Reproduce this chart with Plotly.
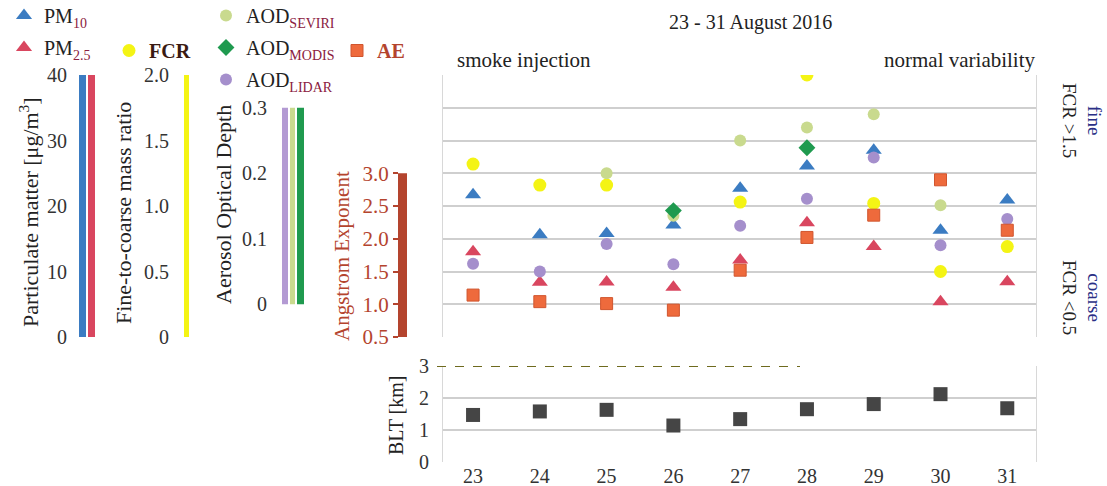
import plotly.graph_objects as go

# ---------------- data ----------------
days = [23, 24, 25, 26, 27, 28, 29, 30, 31]
day_labels = ["23", "24", "25", "26", "27", "28", "29", "30", "31"]
pm10 = [21.7, 15.6, 15.8, 17.1, 22.7, 26.1, 28.5, 16.3, 20.9]
pm25 = [13.0, 8.35, 8.4, 7.6, 11.75, 17.45, 13.8, 5.4, 8.45]
fcr_days = [23, 24, 25, 27, 28, 29, 30, 31]
fcr = [1.32, 1.16, 1.16, 1.03, 2.0, 1.02, 0.50, 0.69]
seviri_days = [25, 26, 27, 28, 29, 30]
aod_seviri = [0.20, 0.135, 0.25, 0.27, 0.29, 0.151]
modis_days = [26, 28]
aod_modis = [0.143, 0.239]
aod_lidar = [0.062, 0.050, 0.092, 0.061, 0.12, 0.161, 0.224, 0.090, 0.13]
ae = [1.14, 1.04, 1.01, 0.91, 1.52, 2.02, 2.36, 2.90, 2.13]
blt = [1.47, 1.58, 1.63, 1.14, 1.34, 1.65, 1.81, 2.12, 1.68]

pm_ticks = [0, 10, 20, 30, 40]
fcr_ticks = [0, 0.5, 1.0, 1.5, 2.0]
fcr_ticktext = ["0", "0.5", "1.0", "1.5", "2.0"]
aod_ticks = [0, 0.1, 0.2, 0.3]
aod_ticktext = ["0", "0.1", "0.2", "0.3"]
ae_ticks = [0.5, 1.0, 1.5, 2.0, 2.5, 3.0]
ae_ticktext = ["0.5", "1.0", "1.5", "2.0", "2.5", "3.0"]
blt_ticks = [0, 1, 2, 3]

# ---------------- styling ----------------
W, H = 1107, 486
SERIF = "Liberation Serif"
def px(x):
    return x / W
def py(y):
    return 1 - y / H

C_PM10 = "#3b7cc2"
C_PM25 = "#d9465f"
C_FCR = "#f4f414"
C_SEV = "#c9da8e"
C_MOD = "#1f9a4f"
C_LID = "#a58fcc"
C_AE = "#ee6a3c"
C_AEDARK = "#b4442e"
C_BLT = "#454545"
GRID = "#cfcfcf"
SUBC = "#8b2040"

main_dom = [py(337), py(75)]
blt_dom = [py(462), py(366)]
x_dom = [px(443), px(1036)]
x_rng = [22.55, 31.43]

fig = go.Figure()

def sub(s):
    return "<sub><span style='color:%s'>%s</span></sub>" % (SUBC, s)

fig.add_trace(go.Scatter(x=days, y=pm10, yaxis="y2", xaxis="x", mode="markers",
                         name="PM" + sub("10"), legend="legend", legendgroup="pm10",
                         marker=dict(symbol="triangle-up", size=14, color=C_PM10)))
fig.add_trace(go.Scatter(x=days, y=pm25, yaxis="y2", xaxis="x", mode="markers",
                         name="PM" + sub("2.5"), legend="legend", legendgroup="pm25",
                         marker=dict(symbol="triangle-up", size=14, color=C_PM25)))
fig.add_trace(go.Scatter(x=seviri_days, y=aod_seviri, yaxis="y3", xaxis="x", mode="markers",
                         name="AOD" + sub("SEVIRI"), legend="legend3", legendgroup="sev",
                         marker=dict(symbol="circle", size=12, color=C_SEV)))
fig.add_trace(go.Scatter(x=modis_days, y=aod_modis, yaxis="y3", xaxis="x", mode="markers",
                         name="AOD" + sub("MODIS"), legend="legend3", legendgroup="mod",
                         marker=dict(symbol="diamond", size=13, color=C_MOD)))
fig.add_trace(go.Scatter(x=days, y=aod_lidar, yaxis="y3", xaxis="x", mode="markers",
                         name="AOD" + sub("LIDAR"), legend="legend3", legendgroup="lid",
                         marker=dict(symbol="circle", size=12, color=C_LID)))
fig.add_trace(go.Scatter(x=days, y=ae, yaxis="y4", xaxis="x", mode="markers",
                         name="<b><span style='color:%s'>AE</span></b>" % C_AEDARK,
                         legend="legend4", legendgroup="ae",
                         marker=dict(symbol="square", size=12, color=C_AE,
                                     line=dict(color="#d0552e", width=1))))
fig.add_trace(go.Scatter(x=fcr_days, y=fcr, yaxis="y", xaxis="x", mode="markers",
                         name="<b><span style='color:#3a1a12'>FCR</span></b>",
                         legend="legend2", legendgroup="fcr",
                         marker=dict(symbol="circle", size=13, color=C_FCR)))
# invisible copy so that the FCR tick-label axis is drawn
fig.add_trace(go.Scatter(x=fcr_days, y=fcr, yaxis="y6", xaxis="x", mode="markers",
                         showlegend=False, hoverinfo="skip",
                         marker=dict(size=1, opacity=0)))
fig.add_trace(go.Scatter(x=days, y=blt, yaxis="y5", xaxis="x2", mode="markers",
                         name="BLT", showlegend=False,
                         marker=dict(symbol="square", size=14, color=C_BLT)))

tickfont = dict(family=SERIF, size=20, color="#333333")

free_axis = dict(overlaying="y", anchor="free", side="left", showgrid=False,
                 zeroline=False, showline=False, ticks="", tickfont=tickfont)

leg_common = dict(xanchor="left", yanchor="top", bgcolor="rgba(0,0,0,0)",
                  font=dict(family=SERIF, size=20, color="#222222"),
                  tracegroupgap=3, itemwidth=30)

fig.update_layout(
    width=W, height=H,
    margin=dict(l=0, r=0, t=0, b=0, autoexpand=False),
    paper_bgcolor="white", plot_bgcolor="white",
    font=dict(family=SERIF, size=20, color="#222222"),
    xaxis=dict(domain=x_dom, range=x_rng, anchor="y", showticklabels=False,
               showgrid=False, zeroline=False, showline=False, ticks=""),
    xaxis2=dict(domain=x_dom, range=x_rng, anchor="y5", tickvals=days, ticktext=day_labels,
                showgrid=False, zeroline=False, showline=False, ticks="",
                tickfont=dict(family=SERIF, size=20, color="#333333")),
    yaxis=dict(domain=main_dom, range=[0, 2], dtick=0.25, anchor="x",
               showticklabels=False, showgrid=True, gridcolor=GRID, gridwidth=1.5,
               zeroline=False, showline=True, mirror=True, linecolor="#d8d8d8", ticks=""),
    yaxis2=dict(free_axis, range=[0, 40], position=px(67), tickvals=pm_ticks),
    yaxis6=dict(free_axis, range=[0, 2], position=px(169), tickvals=fcr_ticks,
                ticktext=fcr_ticktext),
    yaxis3=dict(free_axis, range=[-0.05, 0.35], position=px(267), tickvals=aod_ticks,
                ticktext=aod_ticktext),
    yaxis4=dict(overlaying="y", anchor="free", side="left", showgrid=False, zeroline=False,
                showline=False, position=px(398), range=[0.5, 4.5], tickvals=ae_ticks,
                ticktext=ae_ticktext, ticks="outside", ticklen=5, tickwidth=1.5,
                tickcolor=C_AEDARK,
                tickfont=dict(family=SERIF, size=21, color=C_AEDARK)),
    yaxis5=dict(domain=blt_dom, anchor="x2", range=[0, 3], tickvals=blt_ticks,
                showgrid=True, gridcolor=GRID, gridwidth=1.5, zeroline=False,
                showline=True, mirror=True, linecolor="#d8d8d8",
                ticks="outside", ticklen=9, tickcolor="rgba(0,0,0,0)", tickfont=tickfont),
    legend=dict(leg_common, x=px(4), y=py(-4)),
    legend2=dict(leg_common, x=px(109), y=py(31)),
    legend3=dict(leg_common, x=px(206), y=py(-4)),
    legend4=dict(leg_common, x=px(337), y=py(31)),
)

# coloured axis bars (left side), drawn in each axis' own data units
bars = [
    (79, 86, "y2", 0, 40, C_PM10),
    (88, 95, "y2", 0, 40, C_PM25),
    (184, 189, "y", 0, 2, C_FCR),
    (282, 288, "y3", 0, 0.3, "#b39ad3"),
    (290, 295, "y3", 0, 0.3, C_SEV),
    (297, 304, "y3", 0, 0.3, C_MOD),
    (398, 407, "y4", 0.5, 3.0, C_AEDARK),
]
for x0, x1, yr, v0, v1, col in bars:
    fig.add_shape(type="rect", xref="paper", yref=yr, x0=px(x0), x1=px(x1), y0=v0, y1=v1,
                  fillcolor=col, line=dict(width=0), layer="above")

# dashed olive line on top of BLT panel
fig.add_shape(type="line", xref="paper", yref="y5", x0=px(437), x1=px(800), y0=3, y1=3,
              line=dict(color="#6e6a1e", width=2, dash="dash"))

ann = []
def add_ann(text, x, y, size=20, color="#222222", angle=0, xanchor="center"):
    ann.append(dict(text=text, x=px(x), y=py(y), xref="paper", yref="paper",
                    showarrow=False, textangle=angle, xanchor=xanchor, yanchor="middle",
                    font=dict(family=SERIF, size=size, color=color)))

add_ann("Particulate matter [μg/m<sup>3</sup>]", 29, 212, size=22, angle=-90)
add_ann("Fine-to-coarse mass ratio", 124, 213, size=22, angle=-90)
add_ann("Aerosol Optical Depth", 223, 205, size=22, angle=-90)
add_ann("Angstrom Exponent", 342, 256, size=21, color=C_AEDARK, angle=-90)
add_ann("BLT [km]", 396, 416, size=20, angle=-90)
add_ann("23 - 31 August 2016", 750, 22, size=20)
add_ann("smoke injection", 455, 60, size=21, xanchor="left")
add_ann("normal variability", 1038, 60, size=21, xanchor="right")
add_ann("<span style='color:#2a2f86'>fine</span><br>FCR &gt;1.5", 1082, 120, size=19, angle=90)
add_ann("<span style='color:#2a2f86'>coarse</span><br>FCR &lt;0.5", 1082, 297, size=19, angle=90)
fig.update_layout(annotations=ann)

fig.write_html("out.html", config={"displayModeBar": False},
               post_script="document.body.style.margin='0px';document.body.style.overflow='hidden';")
